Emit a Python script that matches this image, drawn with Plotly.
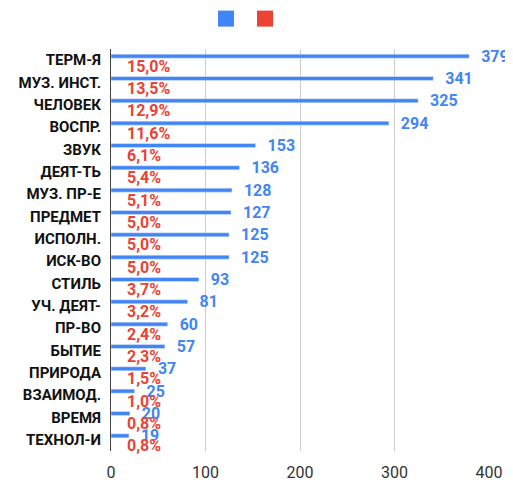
import plotly.graph_objects as go

categories = ["ТЕРМ-Я", "МУЗ. ИНСТ.", "ЧЕЛОВЕК", "ВОСПР.", "ЗВУК", "ДЕЯТ-ТЬ", "МУЗ. ПР-Е",
              "ПРЕДМЕТ", "ИСПОЛН.", "ИСК-ВО", "СТИЛЬ", "УЧ. ДЕЯТ-", "ПР-ВО", "БЫТИЕ",
              "ПРИРОДА", "ВЗАИМОД.", "ВРЕМЯ", "ТЕХНОЛ-И"]
counts = [379, 341, 325, 294, 153, 136, 128, 127, 125, 125, 93, 81, 60, 57, 37, 25, 20, 19]
shares = [0.150, 0.135, 0.129, 0.116, 0.061, 0.054, 0.051, 0.050, 0.050, 0.050, 0.037,
          0.032, 0.024, 0.023, 0.015, 0.010, 0.008, 0.008]
x_ticks = [0, 100, 200, 300, 400]

BLUE = "#4285F4"
RED = "#EA4335"
PAD = "\u00a0" * 3
LABEL_FONT = dict(family="Roboto", size=16, weight="bold")

fig = go.Figure()
fig.add_trace(go.Bar(
    y=categories, x=counts, orientation="h", name="",
    marker=dict(color=BLUE), width=0.18, offset=-0.27,
    text=[PAD + str(v) for v in counts], textposition="outside",
    textfont=dict(color=BLUE, **LABEL_FONT),
    constraintext="none", cliponaxis=False, showlegend=False,
))
fig.add_trace(go.Bar(
    y=categories, x=shares, orientation="h", name="",
    marker=dict(color=RED), width=0.05, offset=0.245,
    showlegend=False, cliponaxis=False,
))
for cat, v in zip(categories, shares):
    fig.add_annotation(
        x=v, y=cat, xref="x", yref="y",
        text=("%.1f%%" % (v * 100)).replace(".", ","),
        showarrow=False, xanchor="left", yanchor="middle",
        xshift=14, yshift=-6,
        font=dict(color=RED, **LABEL_FONT),
    )

# legend swatches (no series names in the original)
fig.add_trace(go.Scatter(x=[None], y=[None], mode="markers", name="",
                         marker=dict(symbol="square", size=16, color=BLUE),
                         showlegend=True, legend="legend"))
fig.add_trace(go.Scatter(x=[None], y=[None], mode="markers", name="",
                         marker=dict(symbol="square", size=16, color=RED),
                         showlegend=True, legend="legend2"))

W, H = 505, 474
L, R, T, B = 103, 23, 41, 31
PW, PH = W - L - R, H - T - B
n = len(categories)
fig.update_layout(
    width=W, height=H,
    margin=dict(l=L, r=R, t=T, b=B, autoexpand=False),
    barmode="overlay",
    plot_bgcolor="white", paper_bgcolor="white",
    font=dict(family="Roboto", color="#222"),
    legend=dict(orientation="h", x=(198 - L) / PW, xanchor="left",
                y=1 + (T - 11) / PH, yanchor="middle", font=dict(size=14)),
    legend2=dict(orientation="h", x=(237 - L) / PW, xanchor="left",
                 y=1 + (T - 11) / PH, yanchor="middle", font=dict(size=14)),
    xaxis=dict(range=[0, 401], tickvals=x_ticks, showgrid=True, gridcolor="#cccccc",
               zeroline=False, showline=False, ticks="outside", ticklen=7,
               tickcolor="rgba(0,0,0,0)", tickfont=dict(size=16, color="#333"),
               automargin=False),
    yaxis=dict(type="category", range=[n - 0.5, -0.5], showgrid=False, showline=True,
               linecolor="#444", linewidth=1, ticks="outside", ticklen=6,
               tickcolor="rgba(0,0,0,0)", automargin=False,
               tickfont=dict(size=15, color="#111", weight="bold")),
)
fig.write_html("out.html")
